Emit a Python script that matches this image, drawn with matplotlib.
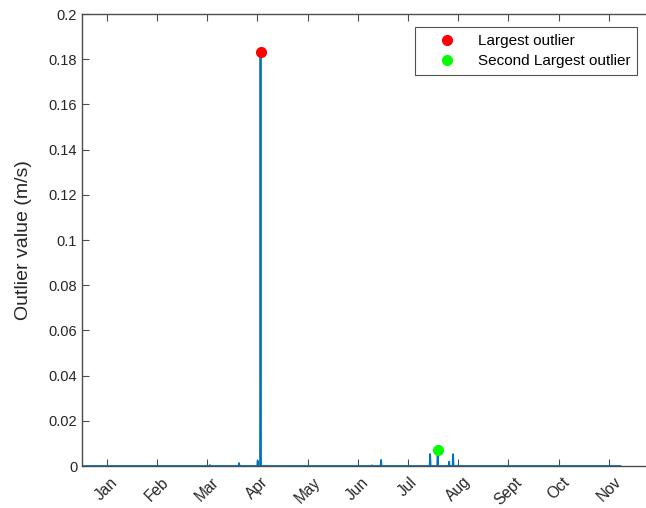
import matplotlib
matplotlib.use("Agg")
import matplotlib.pyplot as plt
from matplotlib.ticker import FuncFormatter

plt.rcParams['font.family'] = ['Liberation Sans', 'DejaVu Sans']

# Data (day of year, value in m/s)
start_day = 0.5
end_day = 326.0
spike_days = [77.5, 95.1, 106.4, 108.1, 175.6, 181.1, 210.8, 215.4, 222.3, 224.7]
spike_vals = [0.0004, 0.0013, 0.0023, 0.183, 0.0003, 0.0027, 0.0053, 0.0072, 0.0019, 0.0052]
largest_day, largest_val = 108.1, 0.183
second_day, second_val = 215.4, 0.0072
month_labels = ['Jan', 'Feb', 'Mar', 'Apr', 'May', 'Jun', 'Jul', 'Aug', 'Sept', 'Oct', 'Nov']
month_ticks = [15 + 30.4 * i for i in range(len(month_labels))]

# build the line from the baseline and spikes
xs = [start_day]
ys = [0.0]
for d, v in zip(spike_days, spike_vals):
    xs += [d - 0.3, d, d + 0.3]
    ys += [0.0, v, 0.0]
xs.append(end_day)
ys.append(0.0)

fig = plt.figure(figsize=(6.46, 5.08), dpi=100)
ax = fig.add_axes([82 / 646, 1 - 466 / 508, (660 - 82) / 646, (466 - 14) / 508])

ax.plot(xs, ys, color='#0072BD', linewidth=1.3)
ax.plot([largest_day], [largest_val], 'o', color='#FF0000', markersize=7,
        linestyle='none', label='Largest outlier')
ax.plot([second_day], [second_val], 'o', color='#00FF00', markersize=7,
        linestyle='none', label='Second Largest outlier')

ax.set_xlim(0, 350)
ax.set_ylim(0, 0.2)
ax.set_yticks([i * 0.02 for i in range(11)])
ax.yaxis.set_major_formatter(FuncFormatter(lambda v, p: '%g' % round(v, 4)))
ax.set_xticks(month_ticks)
ax.set_xticklabels(month_labels, rotation=45, ha='center', va='top', fontsize=11.2)

axis_col = '#4d4d4d'
for s in ax.spines.values():
    s.set_color(axis_col)
    s.set_linewidth(1.0)
ax.tick_params(direction='in', length=5, width=0.8, colors=axis_col,
               labelcolor='#262626', labelsize=10.5, top=True, right=True)
ax.tick_params(axis='x', pad=6, labelsize=11.2)
ax.set_ylabel('Outlier value (m/s)', fontsize=14, color='#262626')
ax.yaxis.set_label_coords(-0.0865, 0.5)

leg = ax.legend(loc='upper left', bbox_to_anchor=((415 - 82) / 578, (466 - 27) / 452),
                fontsize=11, frameon=True, fancybox=False, borderpad=0.45,
                handletextpad=0.35, handlelength=3.3, borderaxespad=0, labelspacing=0.4)
leg.get_frame().set_edgecolor('#262626')
leg.get_frame().set_linewidth(0.8)

fig.savefig('out.png', dpi=100)
